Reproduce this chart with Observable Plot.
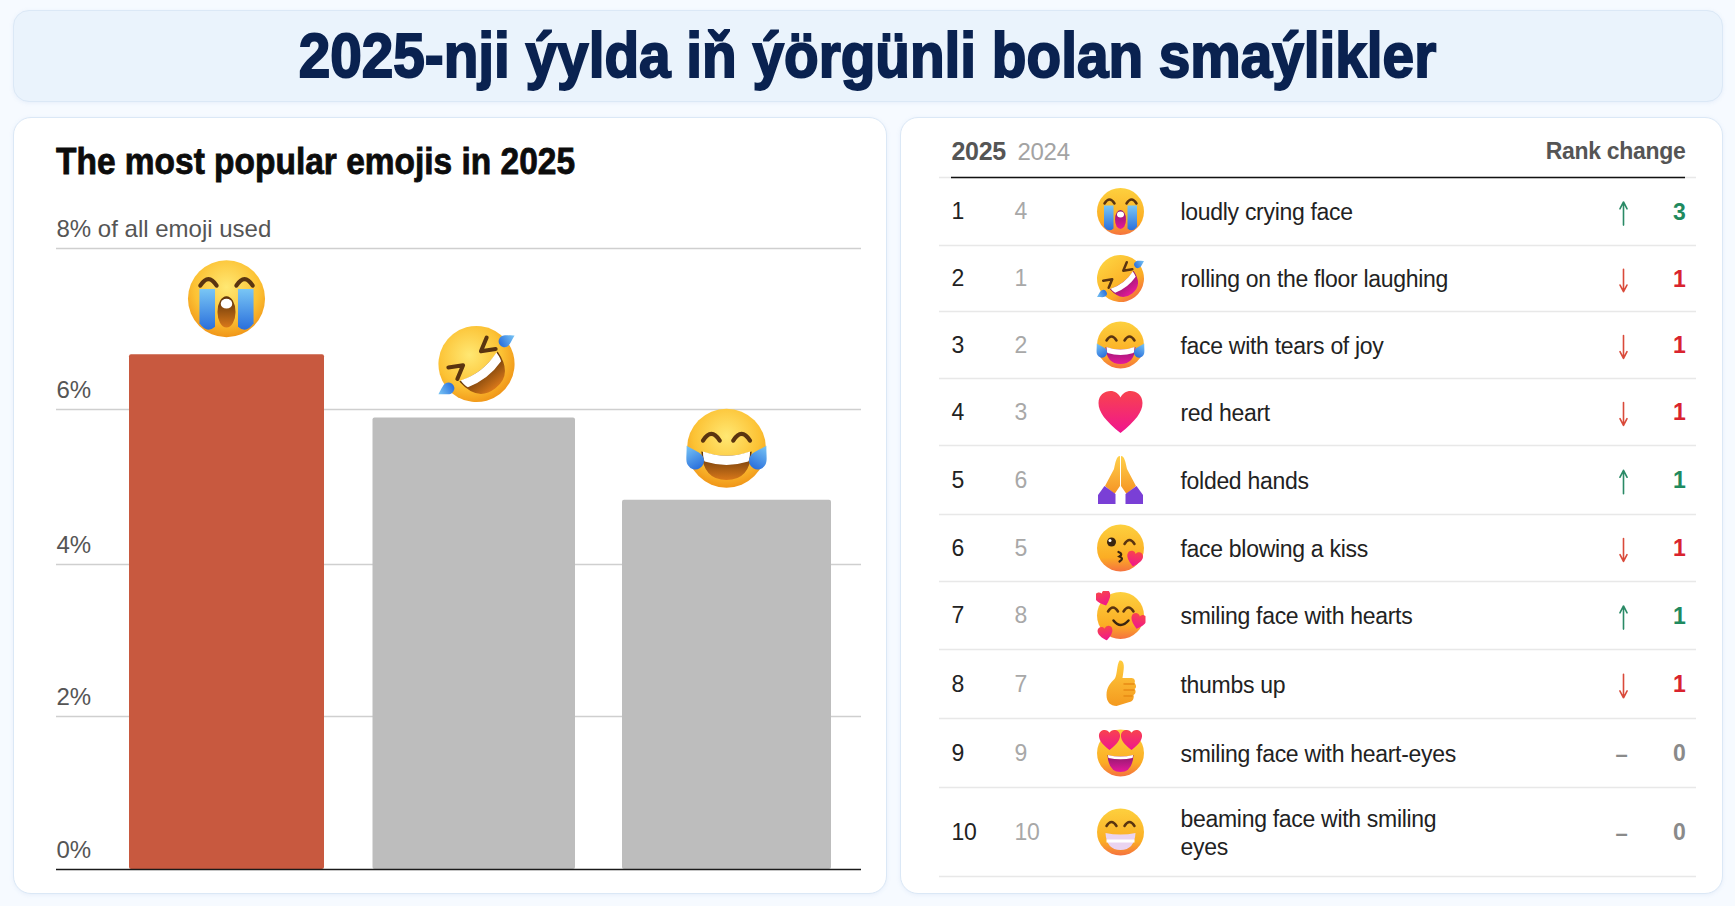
<!DOCTYPE html>
<html><head><meta charset="utf-8">
<script src="https://cdn.jsdelivr.net/npm/d3@7"></script>
<script src="https://cdn.jsdelivr.net/npm/@observablehq/plot@0.6"></script>
<style>
html,body{margin:0;padding:0;background:#f6faff;width:1735px;height:906px;overflow:hidden;font-family:"Liberation Sans",sans-serif}
.panel{position:absolute;box-sizing:border-box;border:1.5px solid #dbe8f6;border-radius:18px;background:#fff;box-shadow:0 1px 4px rgba(120,160,210,.12)}
#banner{left:13px;top:10px;width:1710px;height:92px;background:#eaf3fc;border-radius:16px}
#left{left:13px;top:117px;width:874px;height:777px}
#right{left:900px;top:117px;width:823px;height:777px}
#title{position:absolute;left:0;top:24px;width:1735px;text-align:center;font:700 63px/62px "Liberation Sans",sans-serif;color:#0a2250;-webkit-text-stroke:2px #0a2250;white-space:nowrap;transform:scaleX(.9);transform-origin:867px 50%}
#sub{position:absolute;left:56px;top:141px;font:700 36px/42px "Liberation Sans",sans-serif;color:#0c0c0c;-webkit-text-stroke:.8px #0c0c0c;white-space:nowrap;transform:scaleX(.93);transform-origin:0 50%}
svg{position:absolute;top:0;background:transparent;overflow:visible}
svg text{font-family:"Liberation Sans",sans-serif}
.tight text{letter-spacing:-.3px}
</style></head><body>
<div class="panel" id="banner"></div><div class="panel" id="left"></div><div class="panel" id="right"></div>
<div id="title">2025-nji ýylda iň ýörgünli bolan smaýlikler</div>
<div id="sub">The most popular emojis in 2025</div>
<script>
// ---- data ----
const barNames = ["loudly crying face", "rolling on the floor laughing", "face with tears of joy"];
const barValues = [6.68, 5.89, 4.83];
const barTicks = [0, 2, 4, 6, 8];
const rank2025 = [1,2,3,4,5,6,7,8,9,10];
const rank2024 = [4,1,2,3,6,5,8,7,9,10];
const emojiNames = ["loudly crying face","rolling on the floor laughing","face with tears of joy","red heart","folded hands","face blowing a kiss","smiling face with hearts","thumbs up","smiling face with heart-eyes","beaming face with smiling\neyes"];

// ---- emoji artwork (no colour emoji font is installed) ----
const uri = (defs, body) => "data:image/svg+xml," + encodeURIComponent(`<svg xmlns="http://www.w3.org/2000/svg" viewBox="0 0 100 100"><defs>${defs}</defs>${body}</svg>`);
const G = {
  apple:`<radialGradient id="f" cx=".5" cy=".35" r=".7"><stop offset="0" stop-color="#ffe873"/><stop offset=".6" stop-color="#fcc234"/><stop offset="1" stop-color="#ee8c12"/></radialGradient>`,
  fluent:`<linearGradient id="f" x1="0" y1="0" x2="0" y2="1"><stop offset="0" stop-color="#fdd03e"/><stop offset=".7" stop-color="#fbad24"/><stop offset="1" stop-color="#f5723f"/></linearGradient>`,
  blue:`<linearGradient id="b" x1="0" y1="0" x2="0" y2="1"><stop offset="0" stop-color="#79c6f5"/><stop offset="1" stop-color="#2a6fdc"/></linearGradient>`,
  heart:`<linearGradient id="h" x1="0" y1="0" x2="0" y2="1"><stop offset="0" stop-color="#f8434e"/><stop offset="1" stop-color="#f0158f"/></linearGradient>`,
  mag:`<linearGradient id="m" x1="0" y1="0" x2="0" y2="1"><stop offset="0" stop-color="#8b1a6b"/><stop offset="1" stop-color="#e6199b"/></linearGradient>`,
  brn:`<linearGradient id="m" x1="0" y1="0" x2="0" y2="1"><stop offset="0" stop-color="#5c3208"/><stop offset="1" stop-color="#d9781a"/></linearGradient>`
};
const disc = `<circle cx="50" cy="50" r="47" fill="url(#f)"/>`;
const arc = (x, y, c="#5a3410", w=5) => `<path d="M${x-10} ${y+4}Q${x} ${y-12} ${x+10} ${y+4}" fill="none" stroke="${c}" stroke-width="${w}" stroke-linecap="round"/>`;
const drop = (x, y, s=1, r=0) => `<path transform="translate(${x} ${y}) rotate(${r}) scale(${s})" d="M0-13C5-4 9 0 9 5A9 9 0 0 1-9 5C-9 0-5-4 0-13Z" fill="url(#b)"/>`;
const heartPath = "M50 92C20 68 6 50 6 32 6 16 18 8 30 8 39 8 46 13 50 21 54 13 61 8 70 8 82 8 94 16 94 32 94 50 80 68 50 92Z";
const hrt = (x, y, s, r=0) => `<path transform="translate(${x} ${y}) rotate(${r}) scale(${s}) translate(-50 -50)" d="${heartPath}" fill="url(#h)"/>`;
const grin = `<path d="M20 54Q50 64 80 54 78 88 50 88 22 88 20 54Z" fill="url(#m)"/><path d="M22 54Q50 64 78 54 78 62 76 66 50 74 24 66 22 62 22 54Z" fill="#fff"/>`;
const cryBody = disc + `<path d="M17 38h19v46q-10 9-19-4Z" fill="url(#b)"/><path d="M83 38H64v46q10 9 19-4Z" fill="url(#b)"/>` + arc(28,30) + arc(72,30) + `<ellipse cx="50" cy="66" rx="11" ry="19" fill="url(#m)"/><ellipse cx="50" cy="56" rx="7" ry="6" fill="#fff"/>`;
const roflBody = `<g transform="rotate(-38 50 50)">` + disc + `<path d="M20 32l16 9-16 9M80 32l-16 9 16 9" fill="none" stroke="#5a3410" stroke-width="5" stroke-linecap="round" stroke-linejoin="round"/>` + grin + `</g>` + drop(88,20,.8,60) + drop(12,82,.8,-120);
const joyBody = disc + arc(32,37) + arc(68,37) + grin + drop(10,60,1.15,-30) + drop(90,60,1.15,30);

const appleEmoji = [
  uri(G.apple+G.blue+G.brn, cryBody),
  uri(G.apple+G.blue+G.brn, roflBody),
  uri(G.apple+G.blue+G.brn, joyBody)
];
const base = G.fluent+G.blue+G.heart+G.mag;
const rowEmoji = [
  uri(base, cryBody),
  uri(base, roflBody),
  uri(base, joyBody),
  uri(base, `<path d="${heartPath}" fill="url(#h)"/>`),
  uri(`<linearGradient id="o" x1="0" y1="0" x2="0" y2="1"><stop offset="0" stop-color="#ffd04a"/><stop offset="1" stop-color="#f59324"/></linearGradient>`,
    `<path d="M49 2C42 2 40 14 37 28L19 62 38 78 49 62Z" fill="url(#o)"/><path d="M51 2C58 2 60 14 63 28L81 62 62 78 51 62Z" fill="url(#o)"/><path d="M5 80 18 62 40 78V98H5Z" fill="#7a3fd6"/><path d="M95 80 82 62 60 78V98H95Z" fill="#7a3fd6"/>`),
  uri(base, disc + `<circle cx="32" cy="38" r="9" fill="#3a2410"/><circle cx="29" cy="35" r="3" fill="#fff"/>` + arc(68,38) + `<path d="M46 58q10 4 2 9 10 4 0 10" fill="none" stroke="#3a2410" stroke-width="4.5" stroke-linecap="round"/>` + hrt(78,72,.36,12)),
  uri(base, disc + arc(35,38) + arc(66,38) + `<path d="M36 60Q50 78 66 60" fill="none" stroke="#3a2410" stroke-width="5" stroke-linecap="round"/>` + hrt(16,16,.36,-20) + hrt(86,62,.36,15) + hrt(20,86,.34,-10)),
  uri(`<linearGradient id="o" x1="0" y1="0" x2="0" y2="1"><stop offset="0" stop-color="#ffcc3e"/><stop offset="1" stop-color="#f49a1f"/></linearGradient>`,
    `<path d="M48 3C56 1 58 12 56 24L54 38H72C78 38 80 44 78 48 82 52 82 58 78 60 82 64 80 70 76 72 78 78 74 86 68 86L42 94C30 94 22 86 22 72 22 56 30 48 38 40 44 32 42 12 48 3Z" fill="url(#o)"/><path d="M56 50H78M56 62H78M56 74H74" stroke="#e88a14" stroke-width="3" fill="none"/>`),
  uri(base, disc + hrt(28,24,.48) + hrt(72,24,.48) + `<path d="M24 54Q50 60 76 54 74 88 50 88 26 88 24 54Z" fill="url(#m)"/><path d="M25 54Q50 60 75 54 75 58 74 60 50 65 26 60 25 58 25 54Z" fill="#fff"/>`),
  uri(base, disc + arc(32,34) + arc(68,34) + `<path d="M20 52Q50 58 80 52 78 86 50 86 22 86 20 52Z" fill="#ead4f0"/><path d="M22 68H78" stroke="#fff" stroke-width="6"/>`)
];

// ---- left chart ----
const barData = barNames.map((name, i) => ({name, value: barValues[i], img: appleEmoji[i]}));
const insets = [[28,27],[21.5,26],[21,20]];
const emojiLift = [-56,-54,-52];
const emojiSize = [82,81,84];
const left = Plot.plot({
  width: 890, height: 906, marginLeft: 56, marginRight: 29, marginTop: 0, marginBottom: 0,
  x: {type: "band", domain: barNames, range: [101, 851], padding: 0, axis: null},
  y: {type: "linear", domain: barTicks, range: [869, 716, 564, 409, 248], axis: null},
  style: {background: "transparent"},
  marks: [
    Plot.ruleY(barTicks.filter(d => d > 0), {stroke: "#cfcfcf", strokeWidth: 1.5}),
    ...barData.map((d, i) => Plot.barY([d], {x: "name", y: "value", fill: i === 0 ? "#c8593f" : "#bdbdbd", insetLeft: insets[i][0], insetRight: insets[i][1], rx: 2})),
    Plot.ruleY([0], {stroke: "#1a1a1a", strokeWidth: 1.6}),
    Plot.axisY(barTicks, {anchor: "left", tickSize: 0, tickPadding: 0, textAnchor: "start", lineAnchor: "bottom", dy: -12, fontSize: 24, fill: "#555",
      tickFormat: d => d === 8 ? "8% of all emoji used" : d + "%", label: null}),
    ...barData.map((d, i) => Plot.image([d], {x: "name", y: "value", src: "img", width: emojiSize[i], height: emojiSize[i], dy: emojiLift[i]}))
  ]
});
left.style.left = "0px";
document.body.append(left);

// ---- right table ----
const X0 = 890;
const col = {y25: 951-X0, y24: 1014-X0, icon: 1120-X0, name: 1180-X0, arrow: 1623-X0, change: 1685-X0};
const rows = rank2025.map((r, i) => {
  const delta = rank2024[i] - r;
  return {rank: r, prev: rank2024[i], name: emojiNames[i], img: rowEmoji[i], delta, change: Math.abs(delta)};
});
const arrowColor = d => d.delta > 0 ? "#2a8a66" : "#d94a3a";
const numColor = d => d.delta > 0 ? "#1f8a5f" : d.delta < 0 ? "#d9232e" : "#8a8a8a";
const boundaries = [0.5,1.5,2.5,3.5,4.5,5.5,6.5,7.5,8.5,9.5,10.5];
const right = Plot.plot({
  width: 845, height: 906, margin: 0,
  className: "tight",
  x: {type: "identity", axis: null},
  y: {type: "linear", domain: boundaries, range: [177,245,311,378,445,514,581,649,718,787,876], axis: null},
  style: {background: "transparent"},
  marks: [
    Plot.ruleY(boundaries, {x1: 939-X0, x2: 1696-X0, stroke: "#e8e8e8", strokeWidth: 1.5}),
    Plot.ruleY([0.5], {x1: col.y25, x2: col.change, stroke: "#111", strokeWidth: 1.6}),
    Plot.text(["2025"], {x: col.y25, frameAnchor: "top", dy: 142, text: d => d, textAnchor: "start", fontSize: 25, fontWeight: 700, fill: "#555"}),
    Plot.text(["2024"], {x: col.y24+3, frameAnchor: "top", dy: 142, text: d => d, textAnchor: "start", fontSize: 24, fill: "#a3a3a3"}),
    Plot.text(["Rank change"], {x: col.change, frameAnchor: "top", dy: 142, text: d => d, textAnchor: "end", fontSize: 23, fontWeight: 700, fill: "#555"}),
    Plot.text(rows, {x: col.y25, y: "rank", text: "rank", textAnchor: "start", fontSize: 23, fill: "#222", dy: 0.5}),
    Plot.text(rows, {x: col.y24, y: "rank", text: "prev", textAnchor: "start", fontSize: 23, fill: "#a8a8a8", dy: 0.5}),
    Plot.image(rows, {x: col.icon, y: "rank", src: "img", width: 50, height: 50}),
    Plot.text(rows, {x: col.name, y: "rank", text: "name", textAnchor: "start", fontSize: 23, fill: "#222", dy: 0, lineHeight: 1.2}),
    Plot.arrow(rows.filter(d => d.delta !== 0), {x1: col.arrow, x2: col.arrow,
      y1: d => d.rank + (d.delta > 0 ? 0.2 : -0.14), y2: d => d.rank + (d.delta > 0 ? -0.14 : 0.2),
      bend: 0, headLength: 8, headAngle: 55, stroke: arrowColor, strokeWidth: 1.6}),
    Plot.text(rows.filter(d => d.delta === 0), {x: col.arrow-2, y: "rank", text: () => "–", textAnchor: "middle", fontSize: 22, fontWeight: 700, fill: "#8a8a8a", dy: 2}),
    Plot.text(rows, {x: col.change, y: "rank", text: "change", textAnchor: "end", fontSize: 23, fontWeight: 700, fill: numColor, dy: 1})
  ]
});
right.style.left = X0 + "px";
document.body.append(right);
</script>
</body></html>
